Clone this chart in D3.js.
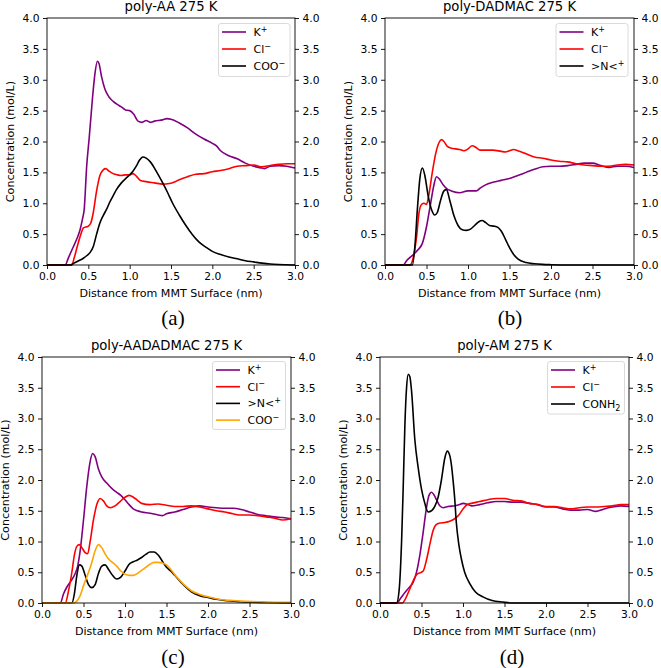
<!DOCTYPE html>
<html>
<head>
<meta charset="utf-8">
<script src="https://cdn.jsdelivr.net/npm/d3@7"></script>
<style>
html,body{margin:0;padding:0;background:#fff;}
svg{display:block;}
text{font-family:"DejaVu Sans",sans-serif;fill:#000;}
</style>
</head>
<body>
<svg id="chart" width="661" height="668"></svg>
<script>
// ---- data ----
const xTicks = [0, 0.5, 1.0, 1.5, 2.0, 2.5, 3.0];
const yTicks = [0, 0.5, 1.0, 1.5, 2.0, 2.5, 3.0, 3.5, 4.0];
const titles = ["poly-AA 275 K", "poly-DADMAC 275 K", "poly-AADADMAC 275 K", "poly-AM 275 K"];
const subLabels = ["(a)", "(b)", "(c)", "(d)"];

const aK = [[0,0],[0.22,0],[0.26,0.12],[0.32,0.3],[0.36,0.42],[0.40,0.57],[0.43,0.75],[0.45,0.9],[0.48,1.6],[0.51,2.05],[0.55,2.7],[0.58,3.1],[0.61,3.3],[0.63,3.26],[0.66,3.05],[0.7,2.85],[0.75,2.72],[0.8,2.65],[0.85,2.6],[0.9,2.56],[0.95,2.51],[1.0,2.5],[1.05,2.44],[1.1,2.33],[1.15,2.31],[1.2,2.34],[1.25,2.31],[1.3,2.33],[1.4,2.35],[1.45,2.37],[1.5,2.36],[1.6,2.3],[1.7,2.22],[1.8,2.12],[1.9,2.04],[2.0,1.97],[2.05,1.93],[2.1,1.85],[2.2,1.77],[2.3,1.72],[2.4,1.65],[2.5,1.6],[2.6,1.57],[2.63,1.56],[2.7,1.6],[2.8,1.61],[2.9,1.6],[3.0,1.57]];
const aCl = [[0,0],[0.3,0],[0.33,0.12],[0.37,0.32],[0.41,0.5],[0.44,0.6],[0.5,0.63],[0.53,0.68],[0.56,0.85],[0.6,1.2],[0.64,1.45],[0.68,1.54],[0.71,1.56],[0.75,1.52],[0.8,1.48],[0.85,1.46],[0.9,1.45],[0.95,1.46],[1.0,1.46],[1.04,1.48],[1.08,1.44],[1.13,1.37],[1.2,1.35],[1.3,1.33],[1.4,1.31],[1.48,1.32],[1.55,1.35],[1.6,1.38],[1.7,1.43],[1.8,1.47],[1.9,1.48],[2.0,1.51],[2.1,1.53],[2.2,1.56],[2.3,1.6],[2.4,1.61],[2.5,1.62],[2.6,1.59],[2.7,1.61],[2.8,1.63],[2.9,1.64],[3.0,1.64]];
const aCOO = [[0,0],[0.28,0],[0.34,0.04],[0.4,0.08],[0.44,0.11],[0.48,0.15],[0.52,0.2],[0.56,0.3],[0.6,0.5],[0.64,0.68],[0.68,0.8],[0.72,0.9],[0.76,1.02],[0.8,1.12],[0.84,1.22],[0.9,1.33],[0.96,1.41],[1.0,1.46],[1.04,1.52],[1.08,1.6],[1.12,1.7],[1.16,1.75],[1.2,1.73],[1.25,1.67],[1.3,1.57],[1.35,1.45],[1.4,1.33],[1.46,1.17],[1.52,1.0],[1.6,0.81],[1.68,0.64],[1.76,0.49],[1.84,0.37],[1.92,0.29],[2.0,0.22],[2.1,0.17],[2.2,0.13],[2.3,0.1],[2.4,0.07],[2.5,0.05],[2.6,0.03],[2.7,0.015],[2.8,0.007],[2.9,0.003],[3.0,0]];

const bK = [[0,0],[0.22,0],[0.26,0.07],[0.3,0.12],[0.35,0.18],[0.4,0.25],[0.45,0.35],[0.5,0.62],[0.55,1.0],[0.59,1.3],[0.62,1.43],[0.65,1.4],[0.7,1.3],[0.75,1.23],[0.8,1.2],[0.9,1.17],[1.0,1.2],[1.1,1.2],[1.15,1.25],[1.2,1.29],[1.3,1.34],[1.4,1.37],[1.5,1.4],[1.6,1.45],[1.7,1.5],[1.8,1.55],[1.9,1.59],[2.0,1.6],[2.1,1.6],[2.2,1.61],[2.3,1.63],[2.4,1.65],[2.5,1.65],[2.6,1.61],[2.7,1.58],[2.8,1.6],[2.9,1.6],[3.0,1.58]];
const bCl = [[0,0],[0.3,0],[0.34,0.12],[0.38,0.45],[0.41,0.85],[0.44,0.98],[0.47,1.0],[0.5,0.98],[0.53,1.15],[0.57,1.5],[0.61,1.8],[0.65,1.98],[0.68,2.03],[0.71,2.0],[0.75,1.92],[0.8,1.89],[0.85,1.88],[0.9,1.87],[0.95,1.85],[1.0,1.88],[1.05,1.93],[1.1,1.9],[1.15,1.86],[1.2,1.86],[1.3,1.86],[1.4,1.84],[1.45,1.83],[1.5,1.85],[1.55,1.87],[1.6,1.85],[1.7,1.8],[1.8,1.75],[1.9,1.73],[2.0,1.7],[2.1,1.68],[2.2,1.67],[2.3,1.64],[2.4,1.62],[2.5,1.61],[2.6,1.6],[2.7,1.6],[2.8,1.62],[2.9,1.63],[3.0,1.62]];
const bN = [[0,0],[0.33,0],[0.36,0.3],[0.39,0.9],[0.42,1.4],[0.45,1.57],[0.48,1.45],[0.52,1.12],[0.56,0.9],[0.6,0.81],[0.63,0.85],[0.67,1.05],[0.71,1.2],[0.74,1.22],[0.78,1.05],[0.83,0.8],[0.88,0.64],[0.93,0.57],[0.98,0.56],[1.03,0.58],[1.08,0.64],[1.13,0.7],[1.17,0.72],[1.21,0.69],[1.26,0.64],[1.31,0.63],[1.36,0.61],[1.4,0.55],[1.45,0.42],[1.5,0.28],[1.55,0.17],[1.6,0.1],[1.7,0.04],[1.8,0.02],[1.9,0.01],[2.0,0.005],[2.2,0],[3.0,0]];

const cK = [[0,0],[0.22,0],[0.26,0.15],[0.3,0.26],[0.35,0.36],[0.4,0.48],[0.43,0.6],[0.46,0.85],[0.5,1.35],[0.54,1.9],[0.58,2.3],[0.61,2.43],[0.64,2.38],[0.68,2.18],[0.72,2.05],[0.78,1.95],[0.85,1.85],[0.9,1.8],[0.95,1.75],[1.0,1.68],[1.05,1.6],[1.1,1.53],[1.15,1.5],[1.2,1.48],[1.3,1.46],[1.4,1.43],[1.45,1.42],[1.5,1.45],[1.6,1.48],[1.7,1.52],[1.8,1.56],[1.9,1.58],[2.0,1.56],[2.1,1.55],[2.2,1.54],[2.3,1.54],[2.4,1.52],[2.5,1.48],[2.6,1.44],[2.7,1.42],[2.8,1.4],[2.9,1.39],[3.0,1.37]];
const cCl = [[0,0],[0.28,0],[0.32,0.2],[0.36,0.5],[0.39,0.78],[0.42,0.92],[0.45,0.95],[0.48,0.9],[0.52,0.82],[0.55,0.8],[0.58,1.0],[0.62,1.35],[0.66,1.6],[0.7,1.7],[0.74,1.66],[0.78,1.58],[0.82,1.55],[0.88,1.58],[0.94,1.65],[1.0,1.72],[1.05,1.75],[1.1,1.72],[1.15,1.67],[1.2,1.62],[1.3,1.6],[1.4,1.61],[1.5,1.59],[1.6,1.57],[1.7,1.57],[1.8,1.58],[1.9,1.56],[2.0,1.53],[2.1,1.5],[2.2,1.48],[2.3,1.45],[2.4,1.43],[2.5,1.43],[2.6,1.42],[2.7,1.4],[2.8,1.38],[2.9,1.35],[3.0,1.37]];
const cN = [[0,0],[0.36,0],[0.39,0.15],[0.42,0.45],[0.45,0.62],[0.48,0.6],[0.52,0.45],[0.56,0.3],[0.6,0.25],[0.64,0.3],[0.68,0.48],[0.72,0.6],[0.76,0.62],[0.8,0.55],[0.85,0.45],[0.9,0.39],[0.95,0.42],[1.0,0.52],[1.05,0.63],[1.1,0.67],[1.15,0.7],[1.2,0.74],[1.25,0.79],[1.3,0.83],[1.35,0.83],[1.4,0.78],[1.45,0.68],[1.5,0.58],[1.55,0.52],[1.6,0.45],[1.7,0.3],[1.8,0.18],[1.9,0.12],[2.0,0.09],[2.1,0.06],[2.2,0.04],[2.4,0.02],[2.6,0.01],[2.8,0.005],[3.0,0]];
const cCOO = [[0,0],[0.38,0],[0.42,0.03],[0.46,0.12],[0.5,0.28],[0.55,0.46],[0.6,0.66],[0.64,0.85],[0.68,0.95],[0.72,0.9],[0.76,0.8],[0.8,0.72],[0.85,0.66],[0.9,0.6],[0.95,0.52],[1.0,0.47],[1.05,0.45],[1.1,0.45],[1.15,0.48],[1.2,0.53],[1.25,0.58],[1.3,0.63],[1.35,0.66],[1.4,0.66],[1.45,0.65],[1.5,0.62],[1.55,0.55],[1.6,0.46],[1.7,0.31],[1.8,0.2],[1.9,0.14],[2.0,0.1],[2.1,0.07],[2.2,0.05],[2.3,0.04],[2.4,0.03],[2.6,0.02],[2.8,0.01],[3.0,0.01]];

const dK = [[0,0],[0.2,0],[0.25,0.08],[0.3,0.17],[0.35,0.25],[0.4,0.34],[0.44,0.5],[0.48,0.78],[0.52,1.15],[0.56,1.55],[0.59,1.75],[0.62,1.8],[0.65,1.76],[0.68,1.68],[0.72,1.58],[0.76,1.55],[0.82,1.57],[0.9,1.58],[0.96,1.6],[1.0,1.62],[1.06,1.6],[1.1,1.58],[1.2,1.6],[1.3,1.63],[1.4,1.65],[1.5,1.65],[1.6,1.64],[1.7,1.64],[1.8,1.62],[1.9,1.6],[2.0,1.56],[2.1,1.56],[2.2,1.53],[2.3,1.51],[2.4,1.51],[2.5,1.52],[2.6,1.49],[2.7,1.53],[2.8,1.56],[2.9,1.58],[3.0,1.57]];
const dCl = [[0,0],[0.27,0],[0.3,0.05],[0.35,0.2],[0.4,0.36],[0.44,0.46],[0.48,0.49],[0.52,0.52],[0.56,0.7],[0.6,0.95],[0.64,1.18],[0.68,1.28],[0.72,1.3],[0.78,1.31],[0.84,1.33],[0.9,1.37],[0.95,1.43],[1.0,1.53],[1.05,1.6],[1.1,1.62],[1.2,1.65],[1.3,1.68],[1.4,1.7],[1.5,1.7],[1.6,1.67],[1.7,1.66],[1.8,1.62],[1.9,1.6],[2.0,1.57],[2.1,1.57],[2.2,1.55],[2.3,1.53],[2.4,1.55],[2.5,1.56],[2.6,1.56],[2.7,1.57],[2.8,1.58],[2.9,1.6],[3.0,1.6]];
const dCONH = [[0,0],[0.2,0],[0.23,0.2],[0.26,1.0],[0.28,1.9],[0.3,2.9],[0.32,3.5],[0.34,3.72],[0.36,3.68],[0.38,3.45],[0.42,2.65],[0.46,2.2],[0.5,1.85],[0.54,1.62],[0.58,1.48],[0.62,1.5],[0.66,1.57],[0.7,1.72],[0.74,2.0],[0.78,2.35],[0.81,2.47],[0.84,2.4],[0.86,2.25],[0.88,2.0],[0.9,1.7],[0.92,1.3],[0.95,0.95],[0.98,0.72],[1.02,0.5],[1.08,0.32],[1.15,0.18],[1.24,0.1],[1.35,0.04],[1.48,0.015],[1.6,0],[3.0,0]];

// legend labels: [main text, script text, script type]
const labK = ["K", "+", "sup"];
const labCl = ["Cl", "\u2212", "sup"];
const labCOO = ["COO", "\u2212", "sup"];
const labN = [">N<", "+", "sup"];
const labCONH = ["CONH", "2", "sub"];

const colK = "#800080", colCl = "#ff0000", colBlack = "#000000", colOrange = "#ffa500";

// ---- layout ----
const panels = [
  {L:47, R:295, T:18, B:265, sub:{x:173, y:325},
   series:[{d:aK, c:colK, l:labK},{d:aCl, c:colCl, l:labCl},{d:aCOO, c:colBlack, l:labCOO}],
   leg:{x:218.5, y:23.5, w:71.5, h:53, row:17}},
  {L:385, R:634, T:18, B:265, sub:{x:510, y:325},
   series:[{d:bK, c:colK, l:labK},{d:bCl, c:colCl, l:labCl},{d:bN, c:colBlack, l:labN}],
   leg:{x:556, y:23.5, w:72, h:53, row:17}},
  {L:42, R:291, T:357, B:603, sub:{x:173, y:663.5},
   series:[{d:cK, c:colK, l:labK},{d:cCl, c:colCl, l:labCl},{d:cN, c:colBlack, l:labN},{d:cCOO, c:colOrange, l:labCOO}],
   leg:{x:212.5, y:361.5, w:73, h:68, row:16.7}},
  {L:380, R:629, T:357, B:603, sub:{x:512, y:663.5},
   series:[{d:dK, c:colK, l:labK},{d:dCl, c:colCl, l:labCl},{d:dCONH, c:colBlack, l:labCONH}],
   leg:{x:547.5, y:361.5, w:77, h:52.5, row:17}}
];

const svg = d3.select("#chart");
const tickFont = 10.7;

panels.forEach((p, i) => {
  const x = d3.scaleLinear().domain([0, 3]).range([p.L, p.R]);
  const y = d3.scaleLinear().domain([0, 4]).range([p.B, p.T]);
  const g = svg.append("g");

  // lines
  const line = d3.line().x(d => x(d[0])).y(d => y(d[1])).curve(d3.curveMonotoneX);
  p.series.forEach(s => {
    g.append("path").datum(s.d).attr("d", line)
      .attr("fill", "none").attr("stroke", s.c).attr("stroke-width", 1.6)
      .attr("stroke-linejoin", "round").attr("stroke-linecap", "butt");
  });

  const fmt = d3.format(".1f");
  const styleAxis = sel => {
    sel.select(".domain").remove();
    sel.selectAll(".tick line").attr("stroke", "#000").attr("stroke-width", 0.9);
    sel.selectAll(".tick text").attr("font-family", "DejaVu Sans").attr("font-size", tickFont).attr("fill", "#000");
  };
  g.append("g").attr("transform", `translate(0,${p.B})`)
    .call(d3.axisBottom(x).tickValues(xTicks).tickFormat(fmt).tickSizeOuter(0).tickSize(4).tickPadding(3.5))
    .call(styleAxis);
  g.append("g").attr("transform", `translate(${p.L},0)`)
    .call(d3.axisLeft(y).tickValues(yTicks).tickFormat(fmt).tickSizeOuter(0).tickSize(4).tickPadding(3.5))
    .call(styleAxis);
  g.append("g").attr("transform", `translate(${p.R},0)`)
    .call(d3.axisRight(y).tickValues(yTicks).tickFormat(fmt).tickSizeOuter(0).tickSize(4).tickPadding(3.5))
    .call(styleAxis);

  // frame
  g.append("rect").attr("x", p.L).attr("y", p.T).attr("width", p.R - p.L).attr("height", p.B - p.T)
    .attr("fill", "none").attr("stroke", "#000").attr("stroke-width", 0.9);

  // title
  g.append("text").attr("x", (p.L + p.R) / 2).attr("y", p.T - 7)
    .attr("text-anchor", "middle").attr("font-size", 13.2).text(titles[i]);
  // x label
  g.append("text").attr("x", (p.L + p.R) / 2).attr("y", p.B + 31.5)
    .attr("text-anchor", "middle").attr("font-size", 11.1).text("Distance from MMT Surface (nm)");
  // y label
  g.append("text").attr("transform", `translate(${p.L - 33.5},${(p.T + p.B) / 2}) rotate(-90)`)
    .attr("text-anchor", "middle").attr("font-size", 11.1).text("Concentration (mol/L)");
  // sub label
  g.append("text").attr("x", p.sub.x).attr("y", p.sub.y)
    .attr("text-anchor", "middle").attr("font-family", "Liberation Serif, Times New Roman, serif")
    .style("font-family", "'Liberation Serif', serif")
    .attr("font-size", 21).text(subLabels[i]);

  // legend
  const lg = g.append("g");
  lg.append("rect").attr("x", p.leg.x).attr("y", p.leg.y).attr("width", p.leg.w).attr("height", p.leg.h)
    .attr("rx", 2.5).attr("fill", "#fff").attr("fill-opacity", 0.85).attr("stroke", "#d6d6d6").attr("stroke-width", 0.9);
  p.series.forEach((s, k) => {
    const cy = p.leg.y + 8.5 + k * p.leg.row;
    lg.append("line").attr("x1", p.leg.x + 3.5).attr("x2", p.leg.x + 27.5)
      .attr("y1", cy).attr("y2", cy).attr("stroke", s.c).attr("stroke-width", 1.6);
    const t = lg.append("text").attr("x", p.leg.x + 35).attr("y", cy + 4).attr("font-size", 11);
    t.append("tspan").text(s.l[0]);
    if (s.l[2] === "sup") {
      t.append("tspan").attr("font-size", 8).attr("dy", -4.5).text(s.l[1]);
    } else {
      t.append("tspan").attr("font-size", 8).attr("dy", 2.5).text(s.l[1]);
    }
  });
});
</script>
</body>
</html>
